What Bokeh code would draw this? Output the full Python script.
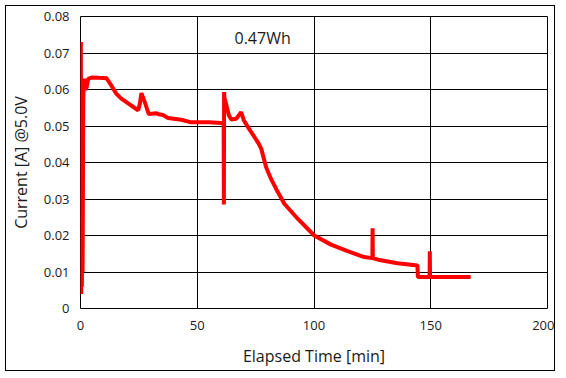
from bokeh.plotting import figure
from bokeh.models import Range1d, FixedTicker, CustomJSTickFormatter, Label
from bokeh.embed import file_html
from bokeh.resources import INLINE

# Elapsed time [min]
time_min = [0, 0.15, 0.3, 0.45, 0.6, 0.75, 0.9, 1.2, 1.6, 2.0, 2.6, 3.3, 5, 8, 11.1,
            13.2, 15.4, 17.5, 20.4, 23.1, 24.7, 25.4, 26.1, 27.5, 29.2, 32.5, 33.5,
            35.3, 37.5, 43.2, 47.4, 55, 60.3, 61.3, 61.4, 61.5, 61.7, 62.4, 63.5,
            64.5, 66.7, 68.8, 70.0, 71.7, 75.9, 77.4, 79.5, 81.6, 84.5, 87.3, 93.0,
            100.1, 107.3, 114.4, 121.5, 125.0, 125.1, 125.2, 128.6, 135.8, 144.3,
            144.5, 147, 149.5, 149.6, 149.7, 152, 160, 167.1]
# Current [A] @5.0V
current_a = [0.004, 0.073, 0.004, 0.060, 0.006, 0.061, 0.010, 0.058, 0.063, 0.060,
             0.0605, 0.0629, 0.0633, 0.0632, 0.0631, 0.0611, 0.0588, 0.0575, 0.0562,
             0.0550, 0.0543, 0.0560, 0.0590, 0.0566, 0.0533, 0.0535, 0.0532, 0.0530,
             0.0522, 0.0517, 0.0510, 0.0510, 0.0508, 0.0510, 0.0285, 0.0593, 0.0575,
             0.0560, 0.0530, 0.0518, 0.0520, 0.0538, 0.0515, 0.0497, 0.0456, 0.0438,
             0.0387, 0.0355, 0.0319, 0.0287, 0.0246, 0.0200, 0.0175, 0.0157, 0.0141,
             0.0138, 0.0220, 0.0138, 0.0132, 0.0124, 0.0118, 0.0086, 0.0086, 0.0086,
             0.0157, 0.0086, 0.0086, 0.0086, 0.0086]

x_ticks = [0, 50, 100, 150, 200]
y_ticks = [0, 0.01, 0.02, 0.03, 0.04, 0.05, 0.06, 0.07, 0.08]
energy_label = "0.47Wh"

FONT = "Open Sans"
TXT = "#1a1a1a"

p = figure(width=550, height=366, output_backend="svg", toolbar_location=None,
           x_range=Range1d(0, 200), y_range=Range1d(0, 0.08),
           min_border_left=73, min_border_right=9, min_border_top=10,
           min_border_bottom=64)
p.styles = {"border": "1px solid black", "margin-left": "5px", "margin-top": "5px"}

p.line(time_min, current_a, line_color="#ff0000", line_width=4)

p.xaxis.ticker = FixedTicker(ticks=x_ticks)
p.yaxis.ticker = FixedTicker(ticks=y_ticks)
p.yaxis.formatter = CustomJSTickFormatter(code="return tick == 0 ? '0' : tick.toFixed(2);")

for ax in (p.xaxis[0], p.yaxis[0]):
    ax.axis_line_color = None
    ax.major_tick_line_color = None
    ax.minor_tick_line_color = None
    ax.major_tick_in = 0
    ax.major_tick_out = 0
    ax.major_label_text_font = FONT
    ax.major_label_text_font_size = "13px"
    ax.major_label_text_color = TXT
    ax.axis_label_text_font = FONT
    ax.axis_label_text_font_size = "16px"
    ax.axis_label_text_font_style = "normal"
    ax.axis_label_text_color = TXT

p.xaxis.axis_label = "Elapsed Time [min]"
p.yaxis.axis_label = "Current [A] @5.0V"
p.xaxis.major_label_standoff = 12
p.yaxis.major_label_standoff = 11
p.xaxis.axis_label_standoff = 12
p.yaxis.axis_label_standoff = 9

p.xgrid.ticker = FixedTicker(ticks=x_ticks)
p.ygrid.ticker = FixedTicker(ticks=y_ticks)
for g in (p.xgrid[0], p.ygrid[0]):
    g.grid_line_color = "black"
    g.grid_line_alpha = 1.0
    g.grid_line_width = 1

p.outline_line_color = "black"
p.outline_line_width = 1
p.outline_line_alpha = 1.0

p.add_layout(Label(x=78, y=0.074, text=energy_label, text_font=FONT,
                   text_font_size="16px", text_align="center",
                   text_baseline="middle", text_color=TXT))

open("out.html", "w").write(file_html(p, INLINE))
